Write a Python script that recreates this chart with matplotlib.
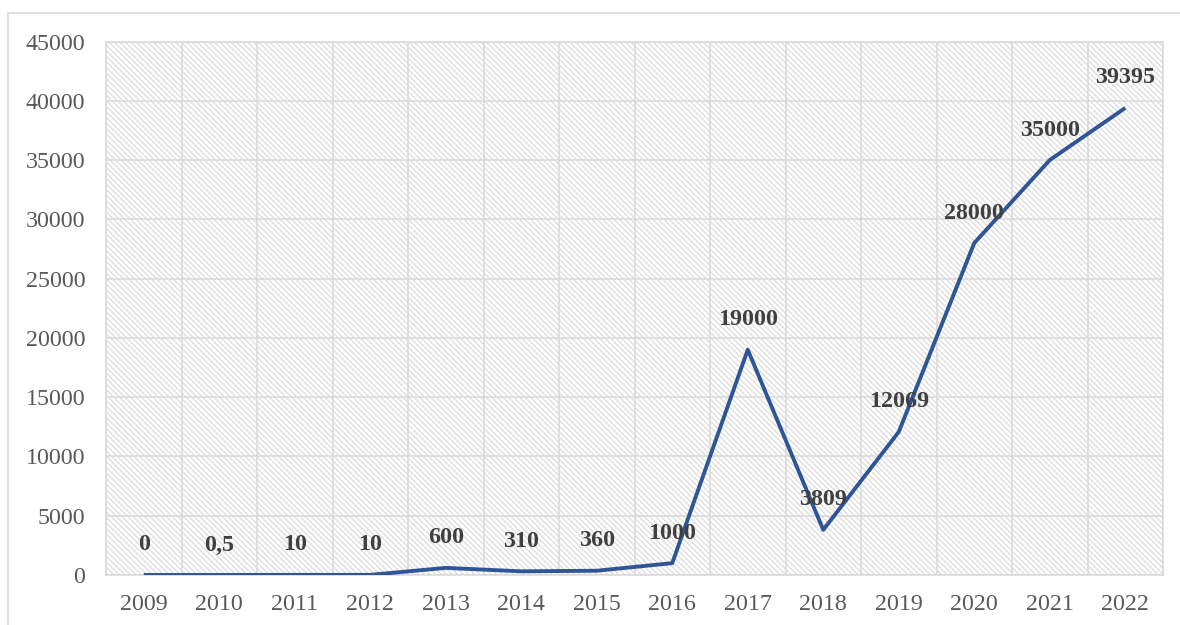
import matplotlib
matplotlib.use("Agg")
import matplotlib.pyplot as plt
from matplotlib.patches import Rectangle
import numpy as np

years = ["2009", "2010", "2011", "2012", "2013", "2014", "2015",
         "2016", "2017", "2018", "2019", "2020", "2021", "2022"]
values = [0, 0.5, 10, 10, 600, 310, 360, 1000, 19000, 3809, 12069, 28000, 35000, 39395]
value_labels = ["0", "0,5", "10", "10", "600", "310", "360", "1000", "19000",
                "3809", "12069", "28000", "35000", "39395"]
y_ticks = [0, 5000, 10000, 15000, 20000, 25000, 30000, 35000, 40000, 45000]

plt.rcParams['font.family'] = ['Liberation Serif', 'DejaVu Serif']
plt.rcParams['hatch.color'] = '#dadada'
plt.rcParams['hatch.linewidth'] = 0.85

W, H = 1180, 625
fig = plt.figure(figsize=(W / 100, H / 100), dpi=100)
fig.patch.set_facecolor('white')

ax = fig.add_axes([106 / W, 1 - 575 / H, (1163 - 106) / W, (575 - 41.5) / H])

grid_c = '#d9d9d9'
x = np.arange(len(years))
fs = 17.3

# hatched plot area background
bg = Rectangle((0, 0), 1, 1, transform=ax.transAxes, facecolor='white',
               edgecolor='#dadada', hatch='\\' * 6, lw=0, zorder=0)
ax.add_patch(bg)
ax.set_facecolor('white')

ax.plot(x, values, color='#2F5597', lw=2.8, zorder=3, solid_capstyle='butt')

for xi, v, lab in zip(x, values, value_labels):
    ax.annotate(lab, (xi, v), xytext=(0, 21.6), textcoords='offset points',
                ha='center', va='center', fontsize=fs, fontweight='bold',
                color='#404040', zorder=4)

ax.set_xlim(-0.5, len(years) - 0.5)
ax.set_ylim(0, 45000)
ax.set_yticks(y_ticks)
ax.set_yticklabels([str(t) for t in y_ticks])
ax.set_xticks(x)
ax.set_xticklabels(years)
ax.set_xticks(np.arange(-0.5, len(years), 1.0), minor=True)

ax.grid(axis='y', which='major', color=grid_c, lw=1.1, zorder=1)
ax.grid(axis='x', which='minor', color=grid_c, lw=1.1, zorder=1)
ax.grid(axis='x', which='major', visible=False)
ax.set_axisbelow(True)

ax.tick_params(axis='both', which='both', length=0)
ax.tick_params(axis='y', pad=15, labelsize=fs, labelcolor='#595959')
ax.tick_params(axis='x', pad=13.5, labelsize=fs, labelcolor='#595959')

for s in ax.spines.values():
    s.set_color(grid_c)
    s.set_linewidth(1.1)

# outer chart border
fig.add_artist(Rectangle((8 / W, -0.2), 2, 1 - 13 / H + 0.2, transform=fig.transFigure,
                         fill=False, edgecolor='#d9d9d9', lw=1.2))

fig.savefig('out.png', dpi=100, facecolor='white')
